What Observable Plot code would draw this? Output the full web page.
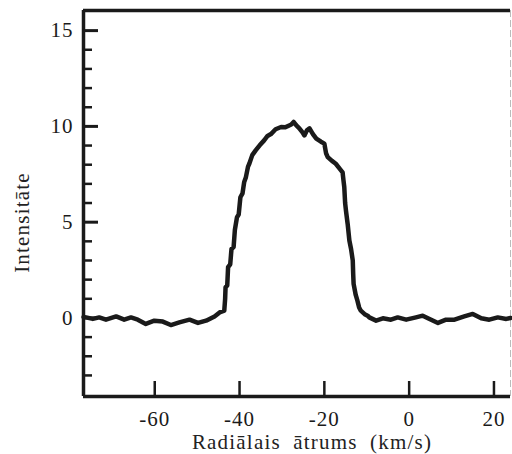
<!DOCTYPE html>
<html>
<head>
<meta charset="utf-8">
<script src="https://cdn.jsdelivr.net/npm/d3@7"></script>
<script src="https://cdn.jsdelivr.net/npm/@observablehq/plot@0.6"></script>
<style>
  html, body { margin: 0; padding: 0; background: #fff; }
  #chart svg text { font-family: "Liberation Serif", serif !important; font-size: 21px !important; letter-spacing: 1px; }
  #chart svg text.lbl { letter-spacing: 1.2px; word-spacing: 6px; }
</style>
</head>
<body>
<div id="chart"></div>
<script>
// Radial velocity (km/s) and intensity
const velocity = [
  -76.8, -76.2, -74.6, -73.1, -71.5, -69.1, -67.2, -65.6, -64.0, -62.1,
  -60.1, -58.1, -56.2, -54.2, -51.8, -49.8, -47.9, -45.9, -44.7, -43.6,
  -43.4, -43.3, -42.9, -42.7, -42.2, -41.9, -41.4, -41.1, -40.6, -40.2,
  -39.8, -39.3, -38.9, -38.5, -38.0, -37.7, -37.0, -36.2, -35.3, -34.2,
  -33.4, -32.6, -31.5, -30.2, -29.2, -28.3, -27.8, -27.25, -26.6, -25.9,
  -25.2, -24.7, -24.1, -23.5, -22.7, -21.9, -20.8, -20.0, -19.6, -19.2,
  -18.2, -17.3, -16.4, -15.7, -15.5, -15.3, -15.1, -14.9, -14.5, -14.1,
  -13.7, -13.3, -13.2, -13.1, -12.6, -12.2, -11.8, -11.4, -10.5, -9.8,
  -9.4, -7.8, -6.2, -4.3, -2.7, -0.7, 1.6, 3.2, 4.8, 6.8,
  8.7, 10.7, 13.0, 15.0, 17.0, 18.9, 20.9, 22.9, 23.9
];
const intensity = [
  0.05, 0.03, -0.05, 0.03, -0.09, 0.08, -0.09, 0.03, -0.09, -0.31,
  -0.14, -0.19, -0.37, -0.23, -0.09, -0.26, -0.14, 0.08, 0.29, 0.38,
  1.0, 1.6, 1.7, 2.65, 2.8, 3.6, 3.7, 4.6, 5.26, 5.4,
  6.3, 6.5, 7.1, 7.35, 7.9, 8.05, 8.5, 8.75, 9.0, 9.27,
  9.5, 9.6, 9.85, 9.97, 9.95, 10.05, 10.1, 10.23, 10.05, 9.9,
  9.7, 9.53, 9.8, 9.9, 9.6, 9.36, 9.2, 9.1, 8.6, 8.4,
  8.2, 8.05, 7.8, 7.6, 7.2, 6.83, 6.0, 5.6, 4.9, 4.04,
  3.6, 3.0, 2.3, 1.78, 1.2, 0.9, 0.55, 0.38, 0.2, 0.12,
  0.03, -0.14, -0.02, -0.09, 0.03, -0.09, 0.03, 0.12, -0.05, -0.26,
  -0.09, -0.09, 0.08, 0.21, -0.02, -0.09, 0.03, -0.05, 0.0
];
const xDomain = [-76.8, 23.9];
const yDomain = [-4.1, 16.05];
const xTicks = [-60, -40, -20, 0, 20];
const yMajorTicks = [0, 5, 10, 15];
const yMinorTicks = [-3, -2, -1, 1, 2, 3, 4, 6, 7, 8, 9, 11, 12, 13, 14];
const xLabel = "Radiālais ātrums (km/s)";
const yLabel = "Intensitāte";

const data = velocity.map((v, i) => ({v, I: intensity[i]}));
const ink = "#1a1a1a";

const chart = Plot.plot({
  width: 512,
  height: 454,
  marginLeft: 83,
  marginRight: 2,
  marginTop: 10,
  marginBottom: 58,
  style: {fontFamily: "'Liberation Serif', serif", fontSize: "21px", color: "#222", background: "#fff"},
  x: {domain: xDomain, axis: null},
  y: {domain: yDomain, axis: null},
  marks: [
    // frame
    Plot.ruleX([xDomain[1]], {stroke: "#bbb", strokeWidth: 1, strokeDasharray: "7,3"}),
    Plot.ruleY([yDomain[1]], {stroke: ink, strokeWidth: 3.5}),
    Plot.ruleY([yDomain[0]], {stroke: ink, strokeWidth: 3.5}),
    Plot.ruleX([xDomain[0]], {stroke: ink, strokeWidth: 3.5}),
    // inward ticks
    Plot.axisY(yMinorTicks, {tickSize: -9, tickFormat: () => "", stroke: ink, strokeWidth: 2.5, label: null}),
    Plot.axisY(yMajorTicks, {tickSize: -15, tickFormat: () => "", stroke: ink, strokeWidth: 3, label: null}),
    Plot.axisX(xTicks, {tickSize: -15, tickFormat: () => "", stroke: ink, strokeWidth: 2.5, label: null}),
    // tick labels
    Plot.axisY(yMajorTicks, {tickSize: 0, tickPadding: 10, tickFormat: d => String(d), fill: "#1a1a1a", label: null}),
    Plot.axisX(xTicks, {tickSize: 0, tickPadding: 15, tickFormat: d => String(d), fill: "#1a1a1a", label: null}),
    // axis titles
    Plot.text([yLabel], {frameAnchor: "left", textAnchor: "middle", lineAnchor: "middle", rotate: -90, dx: -61, dy: 19, fill: "#222"}),
    Plot.text([xLabel], {frameAnchor: "bottom", textAnchor: "middle", lineAnchor: "middle", dx: 15, dy: 46, fill: "#222"}),
    // spectrum
    Plot.line(data, {x: "v", y: "I", stroke: ink, strokeWidth: 4.5, strokeLinejoin: "round", strokeLinecap: "round"})
  ]
});
document.getElementById("chart").appendChild(chart);
d3.select(chart).selectAll("text").filter(function() {
  return this.textContent === xLabel || this.textContent === yLabel;
}).attr("class", "lbl");
</script>
</body>
</html>
